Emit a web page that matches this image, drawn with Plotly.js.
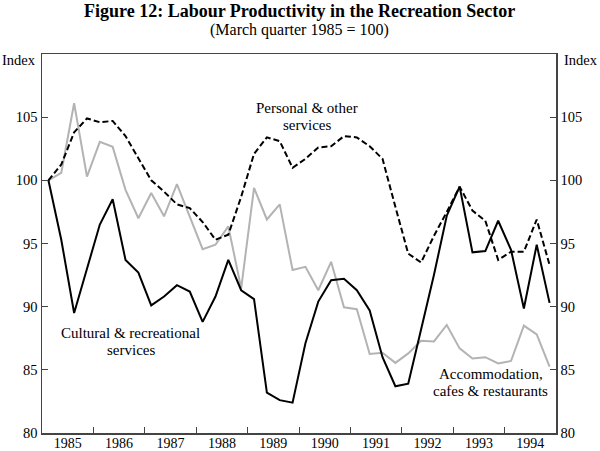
<!DOCTYPE html>
<html>
<head>
<meta charset="utf-8">
<script src="https://cdn.plot.ly/plotly-3.0.1.min.js"></script>
<style>
  html, body { margin: 0; padding: 0; background: #fff; }
  #chart { width: 600px; height: 451px; }
</style>
</head>
<body>
<div id="chart"></div>
<script>
// Quarterly data, March quarter 1985 to December quarter 1994 (index, Mar 1985 = 100)
const startYear = 1985;
const years = ['1985','1986','1987','1988','1989','1990','1991','1992','1993','1994'];

const cultural = [
  100.0, 95.3, 89.5, 93.0, 96.5, 98.5, 93.7, 92.7, 90.1, 90.8,
  91.7, 91.2, 88.8, 90.8, 93.7, 91.3, 90.6, 83.2, 82.6, 82.4,
  87.1, 90.4, 92.1, 92.2, 91.3, 89.7, 86.0, 83.7, 83.9, 88.2,
  92.5, 97.2, 99.5, 94.3, 94.4, 96.8, 94.5, 89.85, 94.9, 90.3
];

const personal = [
  100.0, 101.25, 103.8, 104.9, 104.6, 104.7, 103.5, 101.7, 100.0, 99.1,
  98.1, 97.8, 96.7, 95.3, 95.7, 98.7, 102.1, 103.4, 103.1, 101.0,
  101.7, 102.6, 102.7, 103.5, 103.4, 102.7, 101.7, 97.9, 94.2, 93.5,
  95.6, 97.5, 99.5, 97.6, 96.8, 93.7, 94.35, 94.35, 96.9, 93.3
];

const accommodation = [
  100.0, 100.6, 106.1, 100.3, 103.05, 102.65, 99.25, 97.0, 99.0, 97.15,
  99.7, 97.1, 94.55, 94.9, 96.35, 91.45, 99.4, 96.9, 98.1, 92.9,
  93.15, 91.3, 93.55, 89.95, 89.8, 86.25, 86.35, 85.55, 86.3, 87.3,
  87.25, 88.55, 86.7, 85.9, 86.0, 85.5, 85.7, 88.5, 87.8, 85.25
];

const yTicks = [80, 85, 90, 95, 100, 105];

// series labels, one entry per text line
const labelLines = [
  { text: 'Personal &amp; other', x: 1990.15, y: 105.73 },
  { text: 'services',             x: 1990.15, y: 104.38 },
  { text: 'Cultural &amp; recreational', x: 1986.73, y: 87.95 },
  { text: 'services',                    x: 1986.73, y: 86.6 },
  { text: 'Accommodation,',             x: 1993.73, y: 84.7 },
  { text: 'cafes &amp; restaurants',    x: 1993.73, y: 83.35 }
];

// quarter mid-points in fractional years
const xq = cultural.map((_, i) => startYear + (i + 0.5) / 4);
const yearCentres = years.map(y => Number(y) + 0.5);
const yearBounds = years.slice(1).map(y => Number(y));

const serif = 'Liberation Serif, Times New Roman, serif';
const axisCol = '#444444';

const traces = [
  { x: xq, y: accommodation, type: 'scatter', mode: 'lines',
    line: { color: '#b3b3b3', width: 2 }, hoverinfo: 'skip' },
  { x: xq, y: cultural, type: 'scatter', mode: 'lines',
    line: { color: '#000000', width: 2 }, hoverinfo: 'skip' },
  { x: xq, y: personal, type: 'scatter', mode: 'lines',
    line: { color: '#000000', width: 2, dash: '6px,3px' }, hoverinfo: 'skip' },
  { x: [xq[0]], y: [null], yaxis: 'y2', type: 'scatter', mode: 'lines',
    showlegend: false, hoverinfo: 'skip' }
];

const annotations = [
  { xref: 'paper', yref: 'paper', x: 0.5, y: 1, yshift: 43,
    text: '<b>Figure 12: Labour Productivity in the Recreation Sector</b>',
    showarrow: false, font: { family: serif, size: 18, color: '#000' },
    xanchor: 'center', yanchor: 'middle' },
  { xref: 'paper', yref: 'paper', x: 0.5, y: 1, yshift: 24,
    text: '(March quarter 1985 = 100)',
    showarrow: false, font: { family: serif, size: 16, color: '#000' },
    xanchor: 'center', yanchor: 'middle' },
  { xref: 'paper', yref: 'paper', x: 0, y: 1, xshift: -4, yshift: -6,
    text: 'Index', showarrow: false, font: { family: serif, size: 14.5 },
    xanchor: 'right', yanchor: 'middle' },
  { xref: 'paper', yref: 'paper', x: 1, y: 1, xshift: 6, yshift: -6,
    text: 'Index', showarrow: false, font: { family: serif, size: 14.5 },
    xanchor: 'left', yanchor: 'middle' }
].concat(labelLines.map(l => ({
  xref: 'x', yref: 'y', x: l.x, y: l.y, text: l.text, showarrow: false,
  font: { family: serif, size: 15, color: '#000' }, borderpad: 0,
  xanchor: 'center', yanchor: 'middle'
})));

const layout = {
  width: 600, height: 451,
  margin: { l: 42, r: 44, t: 54, b: 18, pad: 0 },
  paper_bgcolor: '#ffffff', plot_bgcolor: '#ffffff',
  showlegend: false,
  font: { family: serif, size: 14, color: '#000' },
  xaxis: {
    range: [1985, 1995], showgrid: false, zeroline: false,
    showline: true, linecolor: axisCol, linewidth: 1.5, mirror: true,
    tickmode: 'array', tickvals: yearCentres, ticktext: years,
    ticks: '', ticklen: 0, ticklabelstandoff: -3,
    tickfont: { family: serif, size: 14, color: '#000' },
    minor: { tickmode: 'array', tickvals: yearBounds, ticks: 'inside',
             ticklen: 6, tickcolor: axisCol, tickwidth: 1, showgrid: false }
  },
  yaxis: {
    range: [80, 110], showgrid: false, zeroline: false,
    showline: true, linecolor: axisCol, linewidth: 1.5,
    tickmode: 'array', tickvals: yTicks, ticktext: yTicks.map(String),
    ticks: 'inside', ticklen: 6, tickcolor: axisCol, tickwidth: 1,
    tickfont: { family: serif, size: 14.5, color: '#000' }
  },
  yaxis2: {
    overlaying: 'y', side: 'right',
    range: [80, 110], showgrid: false, zeroline: false,
    showline: true, linecolor: axisCol, linewidth: 1.5,
    tickmode: 'array', tickvals: yTicks, ticktext: yTicks.map(String),
    ticks: 'inside', ticklen: 6, tickcolor: axisCol, tickwidth: 1,
    tickfont: { family: serif, size: 14.5, color: '#000' }
  },
  annotations: annotations
};

Plotly.newPlot('chart', traces, layout, { staticPlot: true, displayModeBar: false });
</script>
</body>
</html>
